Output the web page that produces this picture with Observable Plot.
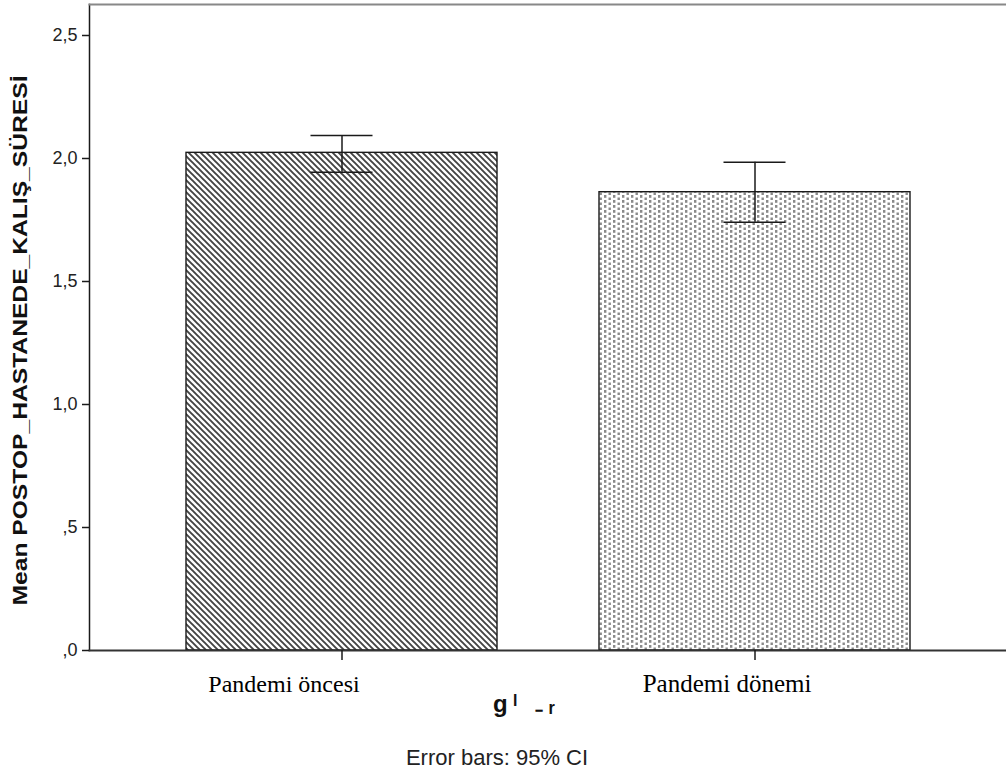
<!DOCTYPE html>
<html><head><meta charset="utf-8">
<script src="https://cdn.jsdelivr.net/npm/d3@7"></script>
<script src="https://cdn.jsdelivr.net/npm/@observablehq/plot@0.6"></script>
<style>
body{margin:0;background:#fff;width:1006px;height:776px;overflow:hidden;position:relative}
#cap{position:absolute;top:746px;left:0;width:994px;text-align:center;font:22px "Liberation Sans",Arial,sans-serif;color:#222;line-height:24px}
</style></head><body><div id="chart"></div><div id="cap">Error bars: 95% CI</div>
<script>
const groups = ["Pandemi öncesi", "Pandemi dönemi"];
const means = [2.023, 1.863];
const ciLow = [1.944, 1.741];
const ciHigh = [2.093, 1.985];
const yTicks = [0, 0.5, 1, 1.5, 2, 2.5];
const yTickLabels = [",0", ",5", "1,0", "1,5", "2,0", "2,5"];
const yLabel = "Mean POSTOP_HASTANEDE_KALIŞ_SÜRESİ";
const xLabel = "g\u02E1 \u208B\u1D63";

const data = groups.map((g, i) => ({group: g, mean: means[i], lo: ciLow[i], hi: ciHigh[i]}));

const chart = Plot.plot({
  width: 1006,
  height: 730,
  marginLeft: 89,
  marginRight: 0,
  marginTop: 4,
  marginBottom: 80,
  style: {fontFamily: "'Liberation Sans', Arial, sans-serif", fontSize: "18px", color: "#222", background: "#fff"},
  x: {domain: groups, paddingInner: 0.248, paddingOuter: 0.233, label: null},
  y: {domain: [0, 2.626], label: null},
  marks: [
    Plot.barY(data.filter((d, i) => i === 0), {x: "group", y: "mean", fill: "url(#hatch)", stroke: "#1a1a1a", strokeWidth: 1.4}),
    Plot.barY(data.filter((d, i) => i === 1), {x: "group", y: "mean", fill: "url(#dots)", stroke: "#1a1a1a", strokeWidth: 1.4}),
    Plot.ruleX(data, {x: "group", y1: "lo", y2: "hi", stroke: "#1a1a1a", strokeWidth: 1.5}),
    Plot.tickY(data, {x: "group", y: "lo", stroke: "#1a1a1a", strokeWidth: 1.5, insetLeft: 124.5, insetRight: 124.5}),
    Plot.tickY(data, {x: "group", y: "hi", stroke: "#1a1a1a", strokeWidth: 1.5, insetLeft: 124.5, insetRight: 124.5}),
    Plot.frame({anchor: "left", stroke: "#1a1a1a", strokeWidth: 1.5}),
    Plot.frame({anchor: "top", stroke: "#888", strokeWidth: 2}),
    Plot.frame({anchor: "bottom", stroke: "#333", strokeWidth: 1.8}),
    Plot.axisY({ticks: yTicks, tickFormat: d => yTickLabels[yTicks.indexOf(d)], tickSize: 7, tickPadding: 5, stroke: "#1a1a1a", strokeWidth: 1.5, label: null}),
    Plot.axisX({tickSize: 10, tickFormat: () => "", stroke: "#1a1a1a", strokeWidth: 1.5, label: null}),
    Plot.text(data.filter((d, i) => i === 0), {x: "group", text: "group", frameAnchor: "bottom", dy: 41, dx: -58, fontFamily: "'Liberation Serif', 'Times New Roman', serif", fontSize: 24, fill: "#000"}),
    Plot.text(data.filter((d, i) => i === 1), {x: "group", text: "group", frameAnchor: "bottom", dy: 41, dx: -28, fontFamily: "'Liberation Serif', 'Times New Roman', serif", fontSize: 25, fill: "#000"}),
    Plot.text([xLabel], {frameAnchor: "bottom", dy: 61, dx: -55, textAnchor: "start", text: d => d, fontWeight: "bold", fontSize: 24, fill: "#111"}),
    Plot.text([yLabel], {frameAnchor: "left", textAnchor: "middle", dx: -69, dy: 13, rotate: -90, text: d => d, fontWeight: "bold", fontSize: 21, fill: "#111"})
  ]
});

const svg = d3.select(chart);
svg.insert("defs", ":first-child").html(`
  <pattern id="hatch" patternUnits="userSpaceOnUse" width="6" height="6">
    <rect width="6" height="6" fill="#fff"/>
    <path d="M-1,-1 L7,7 M-1,5 L1,7 M5,-1 L7,1" stroke="#444" stroke-width="1.9"/>
  </pattern>
  <pattern id="dots" patternUnits="userSpaceOnUse" width="9" height="5">
    <rect width="9" height="5" fill="#fff"/>
    <rect x="1" y="0" width="2.4" height="2.8" fill="#8a8a8a"/>
    <rect x="5.5" y="2.5" width="2.4" height="2.8" fill="#8a8a8a"/>
  </pattern>`);
// stretch the rotated y-axis title and the x-axis title along their length, as in the reference
svg.selectAll("text").filter(function() { return this.textContent === yLabel; })
  .attr("textLength", 530).attr("lengthAdjust", "spacingAndGlyphs");
svg.selectAll("text").filter(function() { return this.textContent === xLabel; })
  .attr("textLength", 62).attr("lengthAdjust", "spacing");
document.getElementById("chart").appendChild(chart);
</script>
</body></html>
